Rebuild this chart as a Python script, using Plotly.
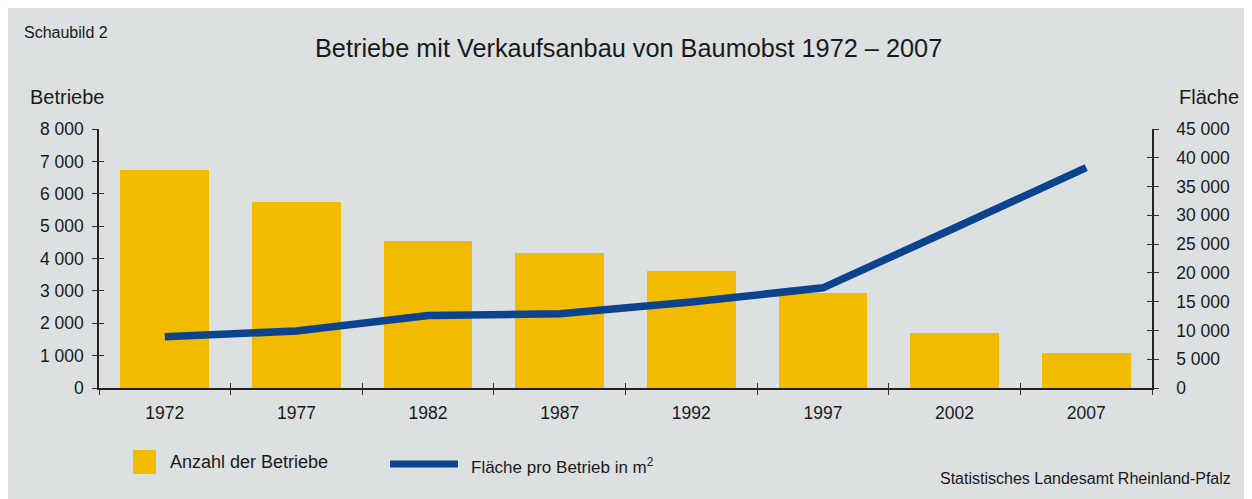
import plotly.graph_objects as go

years = ["1972", "1977", "1982", "1987", "1992", "1997", "2002", "2007"]
betriebe = [6730, 5740, 4540, 4170, 3610, 2940, 1700, 1090]
flaeche = [8900, 9900, 12600, 12900, 14950, 17400, 27800, 38300]

left_ticks = [0, 1000, 2000, 3000, 4000, 5000, 6000, 7000, 8000]
left_labels = ["0", "1 000", "2 000", "3 000", "4 000", "5 000", "6 000", "7 000", "8 000"]
right_ticks = [0, 5000, 10000, 15000, 20000, 25000, 30000, 35000, 40000, 45000]
right_labels = ["0", "5 000", "10 000", "15 000", "20 000", "25 000", "30 000", "35 000", "40 000", "45 000"]

BAR = "#f2bb00"
LINE = "#0c438f"
BG = "#dde0e1"
FONT = "Liberation Sans, Arial, sans-serif"
TXT = "#1a1a1a"

OFF = 8  # page body margin
W, H = 1242, 492
# plot area in screenshot px: x 99..1152, y 129..388
L = 99 - OFF
T = 129 - OFF
R = W - (1152 - OFF)
B = H - (388 - OFF)

fig = go.Figure()
fig.add_trace(go.Bar(x=years, y=betriebe, marker=dict(color=BAR, line=dict(width=0)),
                     width=0.675, name="Anzahl der Betriebe", yaxis="y", xaxis="x"))
fig.add_trace(go.Scatter(x=years, y=flaeche, mode="lines", line=dict(color=LINE, width=7.5),
                         name="Fläche pro Betrieb in m²", yaxis="y2", xaxis="x"))

axis_common = dict(showgrid=False, zeroline=False, linecolor="#222", linewidth=1.5,
                   tickcolor="#333", tickwidth=1.2, ticklen=5,
                   tickfont=dict(family=FONT, size=17.5, color=TXT))

fig.update_layout(
    width=W, height=H,
    margin=dict(l=L, r=R, t=T, b=B),
    paper_bgcolor=BG, plot_bgcolor="rgba(0,0,0,0)",
    showlegend=False, bargap=0,
    font=dict(family=FONT, color=TXT),
    xaxis=dict(type="category", range=[-0.5, 7.5], tickson="boundaries", ticks="outside",
               showline=True, ticklabelstandoff=8, **axis_common),
    xaxis2=dict(type="category", range=[-0.5, 7.5], overlaying="x", tickson="boundaries",
                ticks="inside", showticklabels=False, showline=False, showgrid=False,
                ticklen=5, tickcolor="#333", tickwidth=1.2, categoryorder="array",
                categoryarray=years),
    yaxis=dict(range=[0, 8000], tickvals=left_ticks, ticktext=left_labels, ticks="outside",
               showline=True, ticklabelstandoff=5, **axis_common),
    yaxis2=dict(range=[0, 45000], tickvals=right_ticks, ticktext=right_labels, ticks="outside",
                overlaying="y", side="right", showline=True, ticklabelstandoff=14, **axis_common),
    yaxis3=dict(range=[0, 8000], tickvals=left_ticks, ticks="inside", overlaying="y",
                showticklabels=False, showline=False, showgrid=False, zeroline=False,
                ticklen=5, tickcolor="#333", tickwidth=1.2),
    yaxis4=dict(range=[0, 45000], tickvals=right_ticks, ticks="inside", overlaying="y",
                side="right", showticklabels=False, showline=False, showgrid=False,
                zeroline=False, ticklen=5, tickcolor="#333", tickwidth=1.2),
)

# invisible traces to activate the inner-tick overlay axes
fig.add_trace(go.Scatter(x=years, y=[None] * len(years), xaxis="x2", yaxis="y3",
                         mode="lines", hoverinfo="skip", showlegend=False))
fig.add_trace(go.Scatter(x=years, y=[None] * len(years), xaxis="x", yaxis="y4",
                         mode="lines", hoverinfo="skip", showlegend=False))


def px(x):
    return (x - OFF - L) / (W - L - R)


def py(y):
    return (H - B - (y - OFF)) / (H - T - B)


def text(x, y, s, size, anchor="left"):
    fig.add_annotation(x=px(x), y=py(y), xref="paper", yref="paper", text=s, showarrow=False,
                       xanchor=anchor, yanchor="middle", font=dict(family=FONT, size=size, color=TXT))


text(22, 32, "Schaubild 2", 16)
text(628, 48, "Betriebe mit Verkaufsanbau von Baumobst 1972 – 2007", 25.3, "center")
text(28, 97, "Betriebe", 20)
text(1241, 97, "Fläche", 20, "right")
text(1233, 478, "Statistisches Landesamt Rheinland-Pfalz", 16, "right")

# legend
fig.add_shape(type="rect", xref="paper", yref="paper", x0=px(133), x1=px(156), y0=py(474), y1=py(450),
              fillcolor=BAR, line=dict(width=0))
text(168, 462, "Anzahl der Betriebe", 18)
fig.add_shape(type="line", xref="paper", yref="paper", x0=px(390), x1=px(458), y0=py(464), y1=py(464),
              line=dict(color=LINE, width=7))
text(469, 466, "Fläche pro Betrieb in m<sup>2</sup>", 17)

fig.write_html("out.html")
